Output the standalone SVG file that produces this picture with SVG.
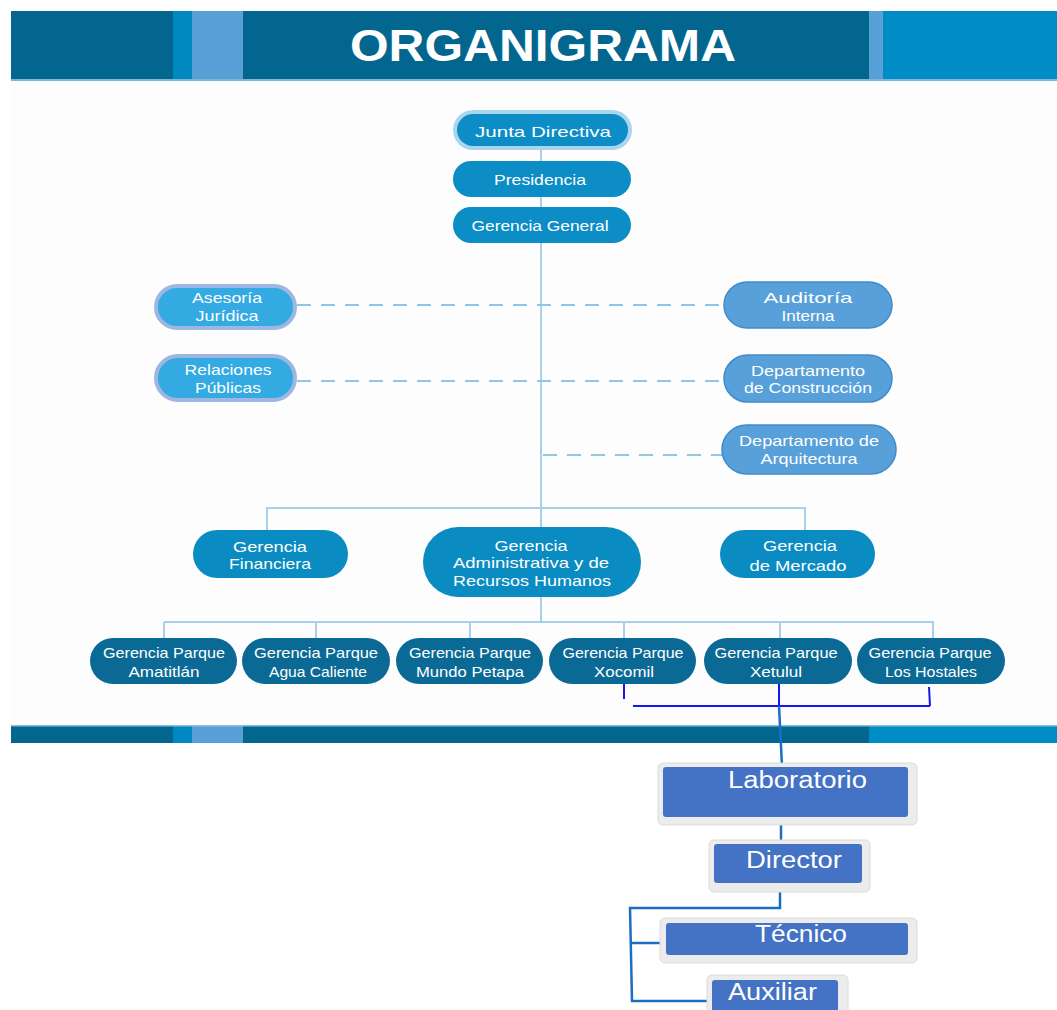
<svg xmlns="http://www.w3.org/2000/svg" width="1057" height="1010" viewBox="0 0 1057 1010">
<defs>
<style>
.t{font-family:"Liberation Sans",Arial,sans-serif;fill:#ffffff;font-size:15px;text-anchor:middle}
.lab{font-family:"Liberation Sans",Arial,sans-serif;fill:#ffffff;font-size:23px}
.ln{stroke:#A9D0EA;stroke-width:2;fill:none}
.dash{stroke:#92C6E6;stroke-width:2;fill:none;stroke-dasharray:14 10}
.top{fill:#0C8DC6}
.mid{fill:#0A8CC2}
.park{fill:#0B6A95}
.asr{fill:#33AAE2;stroke:#9DB6E2;stroke-width:4}
.aud{fill:#58A0DA;stroke:#3F8BCB;stroke-width:1.5}
.hand{stroke:#1616EE;stroke-width:2;fill:none}
.blu{stroke:#1A6FC4;stroke-width:2.5;fill:none}
.frame{fill:#ECECEC;stroke:#DADADA;stroke-width:1}
.box{fill:#4472C4}
</style>
</defs>
<rect width="1057" height="1010" fill="#ffffff"/>
<rect x="11" y="80" width="1046" height="645" fill="#FDFDFD"/>
<!-- header -->
<g id="header">
<rect x="11" y="11" width="1046" height="70" fill="#02668F"/>
<rect x="173" y="11" width="19" height="70" fill="#0089C0"/>
<rect x="192" y="11" width="51" height="70" fill="#58A0D8"/>
<rect x="869" y="11" width="14" height="70" fill="#58A0D8"/>
<rect x="883" y="11" width="174" height="70" fill="#008CC4"/>
<rect x="11" y="79" width="1046" height="2" fill="#7DB6D6"/>
<text x="543" y="61" font-family="Liberation Sans,Arial,sans-serif" font-weight="bold" font-size="45" fill="#ffffff" text-anchor="middle" textLength="386" lengthAdjust="spacingAndGlyphs">ORGANIGRAMA</text>
</g>
<g id="footer">
<rect x="11" y="725" width="1046" height="18" fill="#02668F"/>
<rect x="173" y="725" width="19" height="18" fill="#0089C0"/>
<rect x="192" y="725" width="51" height="18" fill="#58A0D8"/>
<rect x="869" y="725" width="188" height="18" fill="#008CC4"/>
<rect x="11" y="725" width="1046" height="1.5" fill="#8CC0DC"/>
</g>
<!-- connectors -->
<g id="connectors">
<line class="ln" x1="541" y1="146" x2="541" y2="622"/>
<line class="dash" x1="297" y1="305" x2="724" y2="305"/>
<line class="dash" x1="297" y1="381" x2="724" y2="381"/>
<line class="dash" x1="543" y1="455" x2="722" y2="455"/>
<polyline class="ln" points="267,530 267,508 805,508 805,530"/>
<line class="ln" x1="164" y1="622" x2="934" y2="622"/>
<line class="ln" x1="164" y1="622" x2="164" y2="638"/>
<line class="ln" x1="316" y1="622" x2="316" y2="638"/>
<line class="ln" x1="470" y1="622" x2="470" y2="638"/>
<line class="ln" x1="624" y1="622" x2="624" y2="638"/>
<line class="ln" x1="780" y1="622" x2="780" y2="638"/>
<line class="ln" x1="933" y1="622" x2="933" y2="638"/>
<line class="hand" x1="624" y1="676" x2="624" y2="699"/>
<line class="hand" x1="633" y1="706" x2="930" y2="706"/>
<line class="hand" x1="929" y1="687" x2="930" y2="706"/>
<line class="hand" x1="779" y1="680" x2="779" y2="706"/>
<line class="blu" x1="779" y1="706" x2="782" y2="766"/>
<line class="blu" x1="781" y1="825" x2="781" y2="843"/>
<polyline class="blu" points="780,891 780,908 630,908 632,1001 712,1001"/>
<line class="blu" x1="631" y1="943" x2="664" y2="943"/>
</g>
<!-- top nodes -->
<g id="junta">
<rect x="453" y="110" width="179" height="40" rx="20" fill="#A9D5EE"/>
<rect x="457" y="114" width="171" height="32" rx="16" class="top"/>
<text class="t" x="543" y="137" font-size="17" textLength="136" lengthAdjust="spacingAndGlyphs">Junta Directiva</text>
</g>
<g id="presidencia">
<rect x="453" y="161" width="178" height="36" rx="18" class="top"/>
<text class="t" x="540" y="185" textLength="92" lengthAdjust="spacingAndGlyphs">Presidencia</text>
</g>
<g id="gerencia-general">
<rect x="453" y="207" width="178" height="36" rx="18" class="top"/>
<text class="t" x="540" y="231" textLength="137" lengthAdjust="spacingAndGlyphs">Gerencia General</text>
</g>
<!-- staff -->
<g id="asesoria">
<rect x="156" y="286" width="139" height="42" rx="21" class="asr"/>
<text class="t" x="227" y="303" textLength="70" lengthAdjust="spacingAndGlyphs">Asesoría</text>
<text class="t" x="227" y="321" textLength="63" lengthAdjust="spacingAndGlyphs">Jurídica</text>
</g>
<g id="relaciones">
<rect x="156" y="356" width="139" height="44" rx="22" class="asr"/>
<text class="t" x="228" y="375" textLength="87" lengthAdjust="spacingAndGlyphs">Relaciones</text>
<text class="t" x="228" y="393" textLength="66" lengthAdjust="spacingAndGlyphs">Públicas</text>
</g>
<g id="auditoria">
<rect x="724" y="282" width="168" height="46" rx="23" class="aud"/>
<text class="t" x="808" y="303" textLength="89" lengthAdjust="spacingAndGlyphs">Auditoría</text>
<text class="t" x="808" y="321" textLength="53" lengthAdjust="spacingAndGlyphs">Interna</text>
</g>
<g id="construccion">
<rect x="724" y="355" width="168" height="47" rx="23.5" class="aud"/>
<text class="t" x="808" y="376" textLength="114" lengthAdjust="spacingAndGlyphs">Departamento</text>
<text class="t" x="808" y="393" textLength="128" lengthAdjust="spacingAndGlyphs">de Construcción</text>
</g>
<g id="arquitectura">
<rect x="722" y="425" width="174" height="49" rx="24.5" class="aud"/>
<text class="t" x="809" y="446" textLength="140" lengthAdjust="spacingAndGlyphs">Departamento de</text>
<text class="t" x="809" y="464" textLength="97" lengthAdjust="spacingAndGlyphs">Arquitectura</text>
</g>
<!-- second level -->
<g id="financiera">
<rect x="193" y="530" width="155" height="48" rx="24" class="mid"/>
<text class="t" x="270" y="552" textLength="74" lengthAdjust="spacingAndGlyphs">Gerencia</text>
<text class="t" x="270" y="569" textLength="82" lengthAdjust="spacingAndGlyphs">Financiera</text>
</g>
<g id="administrativa">
<rect x="423" y="527" width="218" height="70" rx="35" class="mid"/>
<text class="t" x="531" y="551" textLength="73" lengthAdjust="spacingAndGlyphs">Gerencia</text>
<text class="t" x="531" y="568" textLength="156" lengthAdjust="spacingAndGlyphs">Administrativa y de</text>
<text class="t" x="532" y="586" textLength="158" lengthAdjust="spacingAndGlyphs">Recursos Humanos</text>
</g>
<g id="mercado">
<rect x="720" y="530" width="155" height="48" rx="24" class="mid"/>
<text class="t" x="800" y="551" textLength="74" lengthAdjust="spacingAndGlyphs">Gerencia</text>
<text class="t" x="798" y="571" textLength="97" lengthAdjust="spacingAndGlyphs">de Mercado</text>
</g>
<!-- parks -->
<g id="amatitlan">
<rect x="90" y="638" width="147" height="46" rx="23" class="park"/>
<text class="t" x="164" y="658" textLength="122" lengthAdjust="spacingAndGlyphs">Gerencia Parque</text>
<text class="t" x="164" y="677" textLength="71" lengthAdjust="spacingAndGlyphs">Amatitlán</text>
</g>
<g id="agua-caliente">
<rect x="242" y="638" width="148" height="46" rx="23" class="park"/>
<text class="t" x="316" y="658" textLength="124" lengthAdjust="spacingAndGlyphs">Gerencia Parque</text>
<text class="t" x="318" y="677" textLength="98" lengthAdjust="spacingAndGlyphs">Agua Caliente</text>
</g>
<g id="mundo-petapa">
<rect x="396" y="638" width="147" height="46" rx="23" class="park"/>
<text class="t" x="470" y="658" textLength="122" lengthAdjust="spacingAndGlyphs">Gerencia Parque</text>
<text class="t" x="470" y="677" textLength="108" lengthAdjust="spacingAndGlyphs">Mundo Petapa</text>
</g>
<g id="xocomil">
<rect x="549" y="638" width="147" height="46" rx="23" class="park"/>
<text class="t" x="623" y="658" textLength="121" lengthAdjust="spacingAndGlyphs">Gerencia Parque</text>
<text class="t" x="624" y="677" textLength="60" lengthAdjust="spacingAndGlyphs">Xocomil</text>
</g>
<g id="xetulul">
<rect x="704" y="638" width="148" height="46" rx="23" class="park"/>
<text class="t" x="776" y="658" textLength="123" lengthAdjust="spacingAndGlyphs">Gerencia Parque</text>
<text class="t" x="776" y="677" textLength="52" lengthAdjust="spacingAndGlyphs">Xetulul</text>
</g>
<g id="los-hostales">
<rect x="857" y="638" width="148" height="46" rx="23" class="park"/>
<text class="t" x="930" y="658" textLength="123" lengthAdjust="spacingAndGlyphs">Gerencia Parque</text>
<text class="t" x="931" y="677" textLength="92" lengthAdjust="spacingAndGlyphs">Los Hostales</text>
</g>
<!-- laboratory -->
<g id="laboratorio">
<rect x="658" y="763" width="259" height="62" rx="5" class="frame"/>
<rect x="663" y="767" width="245" height="50" rx="3" class="box"/>
<text class="lab" x="728" y="788" textLength="139" lengthAdjust="spacingAndGlyphs">Laboratorio</text>
</g>
<g id="director">
<rect x="709" y="840" width="161" height="52" rx="5" class="frame"/>
<rect x="714" y="844" width="148" height="39" rx="3" class="box"/>
<text class="lab" x="746" y="868" textLength="96" lengthAdjust="spacingAndGlyphs">Director</text>
</g>
<g id="tecnico">
<rect x="660" y="918" width="257" height="45" rx="5" class="frame"/>
<rect x="666" y="923" width="242" height="32" rx="3" class="box"/>
<text class="lab" x="755" y="942" textLength="92" lengthAdjust="spacingAndGlyphs">Técnico</text>
</g>
<g id="auxiliar">
<rect x="707" y="975" width="141" height="40" rx="5" class="frame"/>
<rect x="712" y="980" width="126" height="32" rx="3" class="box"/>
<text class="lab" x="728" y="1000" textLength="89" lengthAdjust="spacingAndGlyphs">Auxiliar</text>
</g>
</svg>
